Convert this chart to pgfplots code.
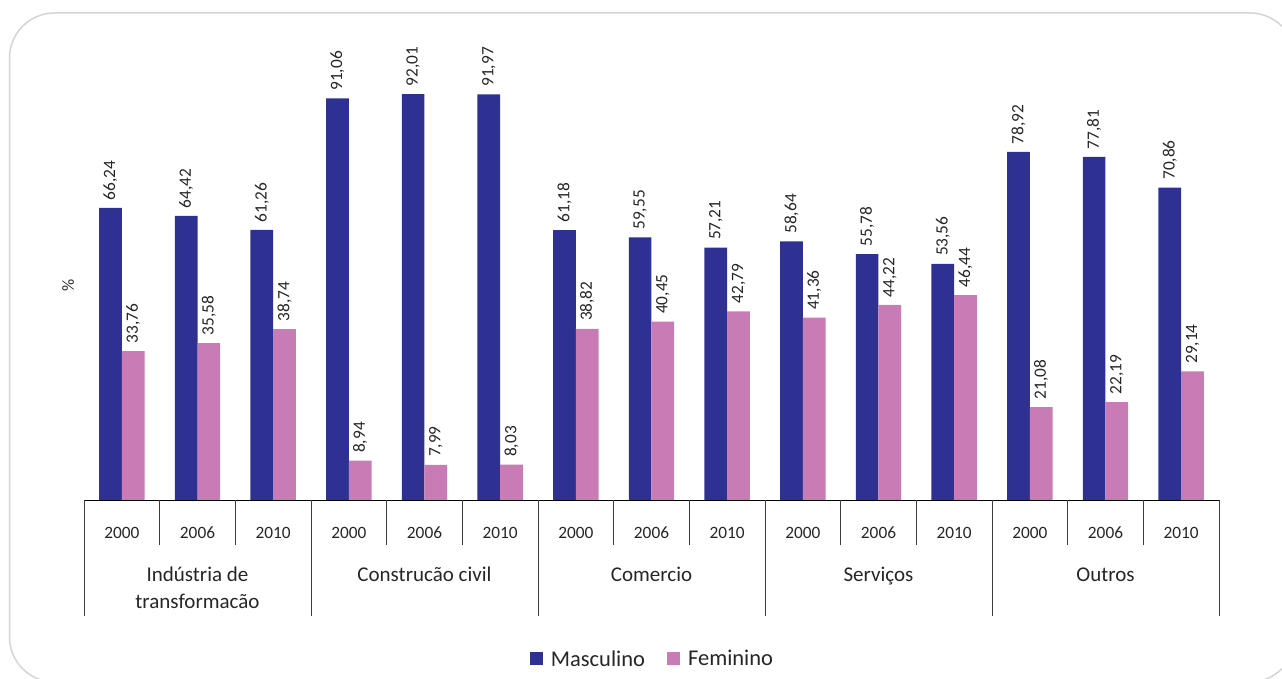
\documentclass[border=0pt]{standalone}
\usepackage{pgfplots}
\pgfplotsset{compat=1.18}
\usepackage{fontspec}
\setmainfont{Carlito}
\definecolor{masc}{RGB}{46,49,146}
\definecolor{fem}{RGB}{200,123,180}
\definecolor{txt}{RGB}{38,38,38}
\definecolor{framec}{RGB}{212,212,212}
\definecolor{sep}{RGB}{60,60,60}
\pgfplotsset{sqlegend/.style={legend image code/.code={\fill[##1] (0pt,-6.5pt) rectangle (13pt,6.5pt);}}}
\begin{document}
\begin{tikzpicture}[x=1pt,y=1pt]
\useasboundingbox (0,0) rectangle (1282,679);
\begin{scope}
\clip (0,0) rectangle (1282,679);
\draw[framec, line width=1.5pt, rounded corners=45pt] (9.5,-3) rectangle (1295,666);
\end{scope}
\begin{axis}[
  at={(84pt,179pt)}, anchor=south west,
  scale only axis, width=1135pt, height=441pt,
  xmin=-0.5, xmax=14.5, ymin=0, ymax=100,
  enlargelimits=false,
  ybar=0pt, bar width=22.7pt,
  axis lines*=left,
  y axis line style={draw=none},
  x axis line style={black, line width=0.8pt},
  ytick=\empty,
  xtick={0,...,14},
  xticklabels={2000,2006,2010,2000,2006,2010,2000,2006,2010,2000,2006,2010,2000,2006,2010},
  major tick length=0pt,
  xticklabel style={font=\fontsize{17.3}{20}\selectfont, text=txt, anchor=center, yshift=-33pt},
  ylabel={\%},
  ylabel style={at={(axis description cs:-0.014,0.4875)}, anchor=center, font=\fontsize{17}{20}\selectfont, text=txt},
  clip=false,
  nodes near coords,
  nodes near coords style={rotate=90, anchor=west, inner xsep=7.6pt, inner ysep=0pt, font=\fontsize{17.3}{20}\selectfont, text=txt},
  /pgf/number format/use comma,
  /pgf/number format/fixed,
  /pgf/number format/fixed zerofill,
  /pgf/number format/precision=2,
  /pgf/number format/assume math mode=true,
  legend style={at={(axis description cs:0.5,-0.3605)}, anchor=center, draw=none, fill=none,
    font=\fontsize{22.5}{26}\selectfont, text=txt, inner sep=0pt,
    legend columns=2,
    /tikz/every odd column/.append style={column sep=8pt},
    /tikz/every even column/.append style={column sep=22pt},
    nodes={inner sep=0pt, anchor=west}},
]
\addplot[fill=masc, draw=none, sqlegend] coordinates {
 (0,66.24) (1,64.42) (2,61.26) (3,91.06) (4,92.01) (5,91.97) (6,61.18) (7,59.55)
 (8,57.21) (9,58.64) (10,55.78) (11,53.56) (12,78.92) (13,77.81) (14,70.86)};
\addplot[fill=fem, draw=none, sqlegend] coordinates {
 (0,33.76) (1,35.58) (2,38.74) (3,8.94) (4,7.99) (5,8.03) (6,38.82) (7,40.45)
 (8,42.79) (9,41.36) (10,44.22) (11,46.44) (12,21.08) (13,22.19) (14,29.14)};
\legend{Masculino, Feminino}
\pgfplotsinvokeforeach{0.5,1.5,3.5,4.5,6.5,7.5,9.5,10.5,12.5,13.5}{
  \draw[sep, line width=0.8pt] (axis cs:#1,0) -- ([yshift=-45pt]axis cs:#1,0);
}
\pgfplotsinvokeforeach{-0.5,2.5,5.5,8.5,11.5,14.5}{
  \draw[sep, line width=0.8pt] (axis cs:#1,0) -- ([yshift=-116pt]axis cs:#1,0);
}
\node[anchor=base, align=center, font=\fontsize{21}{27}\selectfont, text=txt] at ([yshift=-109pt]axis cs:1,0) {Indústria de\\transformacão};
\node[anchor=base, font=\fontsize{21}{27}\selectfont, text=txt] at ([yshift=-82pt]axis cs:4,0) {Construcão civil};
\node[anchor=base, font=\fontsize{21}{27}\selectfont, text=txt] at ([yshift=-82pt]axis cs:7,0) {Comercio};
\node[anchor=base, font=\fontsize{21}{27}\selectfont, text=txt] at ([yshift=-82pt]axis cs:10,0) {Serviços};
\node[anchor=base, font=\fontsize{21}{27}\selectfont, text=txt] at ([yshift=-82pt]axis cs:13,0) {Outros};
\end{axis}
\end{tikzpicture}
\end{document}
